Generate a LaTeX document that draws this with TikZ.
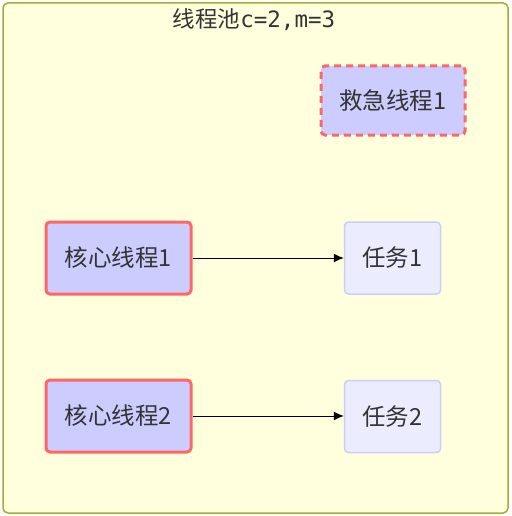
\documentclass[tikz,border=0pt]{standalone}
\usepackage{fontspec}
\setmainfont{Noto Sans CJK SC}
\newfontfamily\monofont{DejaVu Sans Mono}
\usetikzlibrary{arrows.meta}
\definecolor{clusterfill}{HTML}{FFFFDE}
\definecolor{clusterline}{HTML}{AAAA33}
\definecolor{thread}{HTML}{CCCCFF}
\definecolor{redline}{HTML}{FF6666}
\definecolor{taskfill}{HTML}{ECECFF}
\definecolor{taskline}{HTML}{CCCCFF}
\definecolor{txt}{HTML}{333333}
\tikzset{
  box/.style={rounded corners=4pt, inner sep=0pt, text=txt, font=\fontsize{23.5}{26}\selectfont},
  corebox/.style={box, fill=thread, draw=redline, line width=3pt, minimum width=145pt, minimum height=72pt},
  rescuebox/.style={box, fill=thread, draw=redline, line width=3pt, dash pattern=on 7pt off 5pt, minimum width=144pt, minimum height=69pt},
  taskbox/.style={box, fill=taskfill, draw=taskline, line width=1.5pt, minimum width=96pt, minimum height=72pt},
  conn/.style={draw=black, line width=1pt, -{Latex[length=10pt,width=9pt]}},
}
\begin{document}
\begin{tikzpicture}[x=1pt,y=-1pt]
\useasboundingbox (0,0) rectangle (511,516);
\node[draw=clusterline, fill=clusterfill, line width=1.5pt, rounded corners=5pt, minimum width=505pt, minimum height=510pt, inner sep=0pt] (pool) at (255.5,258) {};
\node[text=txt, font=\fontsize{22.5}{25}\selectfont, anchor=center] (title) at (254,20) {线程池{\monofont c=2,m=3}};
\node[rescuebox] (r1) at (393,100.5) {救急线程1};
\node[corebox] (c1) at (118.5,258) {核心线程1};
\node[taskbox] (t1) at (392.5,258) {任务1};
\node[corebox] (c2) at (118.5,416) {核心线程2};
\node[taskbox] (t2) at (392.5,416.5) {任务2};
\draw[conn] (c1) -- (t1);
\draw[conn] (c2) -- (t2.west |- c2);
\end{tikzpicture}
\end{document}
